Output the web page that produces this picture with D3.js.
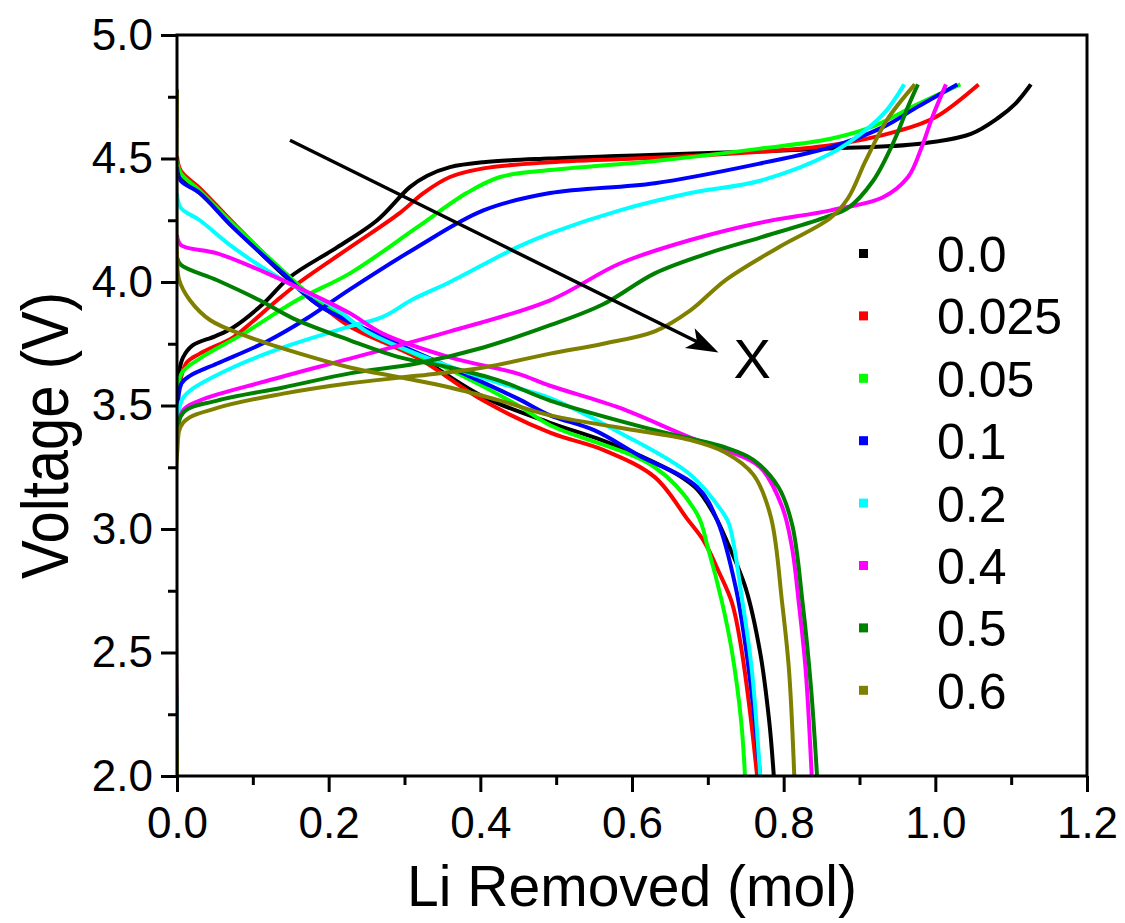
<!DOCTYPE html>
<html>
<head>
<meta charset="utf-8">
<script src="https://cdn.jsdelivr.net/npm/d3@7"></script>
<style>
  html, body { margin: 0; padding: 0; background: #fff; }
  svg { display: block; font-family: "Liberation Sans", Arial, sans-serif; }
</style>
</head>
<body>
<svg id="chart" width="1125" height="923"></svg>
<script>
// ---------- DATA ----------
const seriesLabels = ["0.0", "0.025", "0.05", "0.1", "0.2", "0.4", "0.5", "0.6"];
const seriesColors = ["#000000", "#ff0000", "#00ff00", "#0000ff", "#00ffff", "#ff00ff", "#008000", "#808000"];

const xTicksMajor = [0.0, 0.2, 0.4, 0.6, 0.8, 1.0, 1.2];
const xTicksMinor = [0.1, 0.3, 0.5, 0.7, 0.9, 1.1];
const yTicksMajor = [2.0, 2.5, 3.0, 3.5, 4.0, 4.5, 5.0];
const yTicksMinor = [2.25, 2.75, 3.25, 3.75, 4.25, 4.75];

// charge curves [Li removed, V]
const charge_00 = [[0,2.0],[0,3.55],[0.003,3.64],[0.008,3.695],[0.021,3.744],[0.05,3.78],[0.074,3.816],[0.113,3.91],[0.149,4.02],[0.211,4.14],[0.264,4.25],[0.307,4.384],[0.33,4.43],[0.36,4.465],[0.404,4.485],[0.49,4.50],[0.58,4.51],[0.68,4.52],[0.86,4.54],[0.98,4.56],[1.047,4.60],[1.084,4.667],[1.105,4.72],[1.126,4.80]];
const charge_025 = [[0,2.0],[0,3.5],[0.005,3.61],[0.013,3.675],[0.03,3.71],[0.074,3.776],[0.096,3.83],[0.132,3.926],[0.162,4.0],[0.228,4.14],[0.294,4.28],[0.325,4.36],[0.36,4.425],[0.404,4.46],[0.492,4.485],[0.677,4.51],[0.862,4.554],[0.955,4.615],[1.0,4.667],[1.057,4.80]];
const charge_05 = [[0,2.0],[0,3.5],[0.006,3.63],[0.03,3.69],[0.087,3.79],[0.158,3.926],[0.228,4.035],[0.316,4.22],[0.382,4.36],[0.426,4.425],[0.492,4.453],[0.63,4.49],[0.769,4.54],[0.862,4.58],[0.918,4.63],[0.977,4.72],[1.033,4.80]];
const charge_1 = [[0,2.0],[0,3.45],[0.006,3.59],[0.017,3.62],[0.053,3.67],[0.119,3.76],[0.17,3.85],[0.228,3.97],[0.316,4.14],[0.404,4.29],[0.492,4.36],[0.63,4.40],[0.769,4.48],[0.862,4.546],[0.931,4.627],[0.977,4.71],[1.029,4.80]];
const charge_2 = [[0,2.0],[0,3.4],[0.006,3.52],[0.017,3.56],[0.074,3.655],[0.14,3.735],[0.228,3.82],[0.272,3.86],[0.311,3.93],[0.36,4.0],[0.448,4.14],[0.492,4.197],[0.584,4.29],[0.677,4.36],[0.769,4.41],[0.862,4.52],[0.908,4.615],[0.936,4.696],[0.959,4.80]];
const charge_4 = [[0,2.0],[0,3.35],[0.008,3.48],[0.03,3.52],[0.119,3.60],[0.228,3.69],[0.36,3.80],[0.492,3.926],[0.584,4.075],[0.677,4.17],[0.769,4.24],[0.862,4.29],[0.931,4.343],[0.964,4.425],[0.982,4.546],[0.996,4.667],[1.014,4.80]];
const charge_5 = [[0,2.0],[0,3.35],[0.008,3.47],[0.053,3.52],[0.14,3.573],[0.228,3.63],[0.316,3.67],[0.404,3.735],[0.492,3.825],[0.562,3.91],[0.63,4.035],[0.70,4.116],[0.769,4.18],[0.853,4.26],[0.885,4.30],[0.918,4.41],[0.946,4.574],[0.964,4.71],[0.977,4.80]];
const charge_6 = [[0,2.0],[0,3.3],[0.008,3.43],[0.053,3.49],[0.14,3.548],[0.228,3.59],[0.316,3.62],[0.404,3.654],[0.492,3.71],[0.562,3.75],[0.63,3.80],[0.677,3.885],[0.723,4.007],[0.793,4.14],[0.862,4.26],[0.885,4.34],[0.908,4.49],[0.936,4.655],[0.973,4.80]];

// discharge curves [Li removed, V]
const discharge_00 = [[0,4.47],[0.005,4.42],[0.03,4.36],[0.074,4.225],[0.14,4.03],[0.185,3.91],[0.25,3.80],[0.316,3.70],[0.404,3.535],[0.492,3.43],[0.56,3.36],[0.608,3.30],[0.66,3.22],[0.686,3.16],[0.71,3.05],[0.723,2.965],[0.75,2.76],[0.769,2.50],[0.781,2.22],[0.787,2.0]];
const discharge_025 = [[0,4.51],[0.005,4.45],[0.03,4.38],[0.074,4.24],[0.14,4.04],[0.185,3.92],[0.228,3.82],[0.316,3.695],[0.404,3.52],[0.492,3.39],[0.562,3.32],[0.63,3.21],[0.673,3.04],[0.695,2.95],[0.714,2.83],[0.732,2.70],[0.744,2.52],[0.756,2.25],[0.765,2.0]];
const discharge_05 = [[0,4.49],[0.005,4.44],[0.03,4.37],[0.074,4.235],[0.14,4.045],[0.185,3.925],[0.27,3.77],[0.36,3.645],[0.45,3.50],[0.492,3.42],[0.63,3.25],[0.686,3.06],[0.70,2.925],[0.719,2.70],[0.732,2.50],[0.744,2.22],[0.749,2.0]];
const discharge_1 = [[0,4.465],[0.005,4.41],[0.03,4.36],[0.074,4.22],[0.14,4.035],[0.185,3.91],[0.272,3.776],[0.36,3.654],[0.448,3.53],[0.492,3.46],[0.55,3.40],[0.608,3.30],[0.686,3.17],[0.713,3.03],[0.737,2.76],[0.75,2.52],[0.762,2.22],[0.769,2.0]];
const discharge_2 = [[0,4.36],[0.005,4.30],[0.03,4.25],[0.074,4.14],[0.14,4.007],[0.206,3.90],[0.25,3.80],[0.338,3.683],[0.426,3.59],[0.492,3.53],[0.584,3.39],[0.677,3.22],[0.719,3.07],[0.728,3.02],[0.746,2.70],[0.758,2.43],[0.769,2.0]];
const discharge_4 = [[0,4.19],[0.005,4.15],[0.053,4.116],[0.119,4.035],[0.185,3.94],[0.228,3.873],[0.272,3.79],[0.36,3.695],[0.448,3.63],[0.492,3.58],[0.584,3.49],[0.677,3.37],[0.723,3.32],[0.769,3.25],[0.798,3.09],[0.811,2.925],[0.820,2.70],[0.829,2.43],[0.837,2.0]];
const discharge_5 = [[0,4.10],[0.005,4.07],[0.053,4.007],[0.109,3.926],[0.153,3.853],[0.228,3.764],[0.294,3.695],[0.36,3.654],[0.426,3.60],[0.492,3.52],[0.63,3.40],[0.723,3.33],[0.76,3.28],[0.793,3.17],[0.811,3.02],[0.825,2.70],[0.836,2.36],[0.844,2.0]];
const discharge_6 = [[0,4.78],[0,4.1],[0.003,4.007],[0.017,3.926],[0.044,3.845],[0.096,3.776],[0.162,3.71],[0.228,3.654],[0.294,3.614],[0.36,3.573],[0.426,3.52],[0.492,3.46],[0.584,3.41],[0.677,3.36],[0.723,3.31],[0.76,3.22],[0.783,3.05],[0.798,2.70],[0.807,2.43],[0.814,2.0]];

const chargeCurves = [charge_00, charge_025, charge_05, charge_1, charge_2, charge_4, charge_5, charge_6];
const dischargeCurves = [discharge_00, discharge_025, discharge_05, discharge_1, discharge_2, discharge_4, discharge_5, discharge_6];

// annotation arrow (data units): start and tip, label "X"
const arrowStart = [0.149, 4.574];
const arrowTip = [0.714, 3.715];
const arrowLabelPos = [0.734, 3.61];

// ---------- CHART ----------
const svg = d3.select("#chart");
const L = 177, R = 1087, T = 35, B = 776;
const x = d3.scaleLinear().domain([0, 1.2]).range([L, R]);
const y = d3.scaleLinear().domain([2, 5]).range([B, T]);

svg.append("defs").append("clipPath").attr("id", "clip")
  .append("rect").attr("x", L).attr("y", T).attr("width", R - L).attr("height", B - T);

const line = d3.line().x(d => x(d[0])).y(d => y(d[1])).curve(d3.curveCatmullRom.alpha(0.5));

const plot = svg.append("g").attr("clip-path", "url(#clip)");
seriesLabels.forEach((lab, i) => {
  plot.append("path").datum(chargeCurves[i])
    .attr("d", line).attr("fill", "none")
    .attr("stroke", seriesColors[i]).attr("stroke-width", 4).attr("stroke-linejoin", "round");
  plot.append("path").datum(dischargeCurves[i])
    .attr("d", line).attr("fill", "none")
    .attr("stroke", seriesColors[i]).attr("stroke-width", 4).attr("stroke-linejoin", "round");
});

// axes
function styleAxis(g) {
  g.select(".domain").remove();
  g.selectAll(".tick line").attr("stroke", "#000").attr("stroke-width", 3);
  g.selectAll(".tick text").attr("fill", "#000").style("font-size", "44px");
}
svg.append("g").attr("transform", `translate(0,${B})`)
  .call(d3.axisBottom(x).tickValues(xTicksMinor).tickSize(9).tickSizeOuter(0).tickFormat(""))
  .call(styleAxis);
const gx = svg.append("g").attr("transform", `translate(0,${B})`)
  .call(d3.axisBottom(x).tickValues(xTicksMajor).tickSize(16).tickSizeOuter(0).tickFormat(d3.format(".1f")))
  .call(styleAxis);
gx.selectAll(".tick text").attr("y", 62).attr("dy", 0);

svg.append("g").attr("transform", `translate(${L},0)`)
  .call(d3.axisLeft(y).tickValues(yTicksMinor).tickSize(9).tickSizeOuter(0).tickFormat(""))
  .call(styleAxis);
const gy = svg.append("g").attr("transform", `translate(${L},0)`)
  .call(d3.axisLeft(y).tickValues(yTicksMajor).tickSize(16).tickSizeOuter(0).tickFormat(d3.format(".1f")))
  .call(styleAxis);
gy.selectAll(".tick text").attr("x", -24).attr("dy", "0.32em");

// frame
svg.append("rect").attr("x", L).attr("y", T).attr("width", R - L).attr("height", B - T)
  .attr("fill", "none").attr("stroke", "#000").attr("stroke-width", 3);

// axis titles
svg.append("text").attr("x", (L + R) / 2).attr("y", 906)
  .attr("text-anchor", "middle").style("font-size", "57px").text("Li Removed (mol)");
svg.append("text")
  .attr("transform", `translate(68,${(T + B) / 2 + 30}) rotate(-90)`)
  .attr("text-anchor", "middle").style("font-size", "66px")
  .attr("textLength", 287).attr("lengthAdjust", "spacingAndGlyphs")
  .text("Voltage (V)");

// legend
const legend = svg.append("g");
seriesLabels.forEach((lab, i) => {
  const cy = 254 + i * 62.4;
  legend.append("rect").attr("x", 859).attr("y", cy - 5).attr("width", 9).attr("height", 9)
    .attr("fill", seriesColors[i]);
  legend.append("text").attr("x", 937).attr("y", cy + 18).style("font-size", "50px").text(lab);
});

// arrow annotation
const sx = x(arrowStart[0]), sy = y(arrowStart[1]);
const tx = x(arrowTip[0]), ty = y(arrowTip[1]);
const dx = tx - sx, dy = ty - sy, len = Math.hypot(dx, dy);
const ux = dx / len, uy = dy / len;
const headLen = 32, headW = 11;
svg.append("line").attr("x1", sx).attr("y1", sy)
  .attr("x2", tx - ux * 20).attr("y2", ty - uy * 20)
  .attr("stroke", "#000").attr("stroke-width", 3.5);
const bx = tx - ux * headLen, by = ty - uy * headLen;
svg.append("polygon")
  .attr("points", [[tx, ty], [bx - uy * headW, by + ux * headW], [tx - ux * headLen * 0.75, ty - uy * headLen * 0.75], [bx + uy * headW, by - ux * headW]].map(p => p.join(",")).join(" "))
  .attr("fill", "#000");
svg.append("text").attr("x", x(arrowLabelPos[0])).attr("y", y(arrowLabelPos[1]))
  .style("font-size", "56px").text("X");
</script>
</body>
</html>
